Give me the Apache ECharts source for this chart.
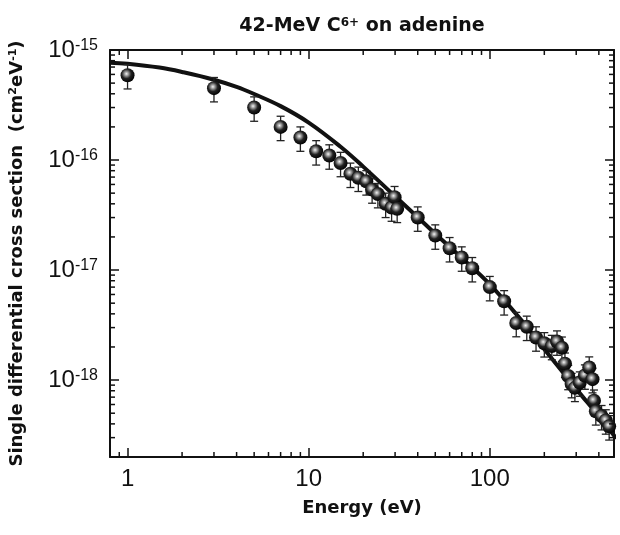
<!DOCTYPE html>
<html>
<head>
<meta charset="utf-8">
<script src="https://cdn.jsdelivr.net/npm/echarts@6.0.0/dist/echarts.min.js"></script>
<style>
  html, body { margin: 0; background: #fff; }
  #chart { width: 620px; height: 535px; }
</style>
</head>
<body>
<div id="chart"></div>
<script>
const energy = [1, 3, 5, 7, 9, 11, 13, 15, 17, 18.8, 20.8, 22.4, 24.1, 26.6, 28.7, 29.8, 30.8,
  40, 50, 60, 70, 80, 100, 120, 140, 160, 180, 200, 220, 235, 250, 260, 271, 283, 295,
  314, 335, 354, 369, 376, 385, 414, 437, 456]
const sigma = [5.9e-16, 4.5e-16, 3.0e-16, 2.0e-16, 1.6e-16, 1.2e-16, 1.1e-16, 9.4e-17, 7.5e-17, 6.9e-17,
  6.4e-17, 5.4e-17, 4.9e-17, 4.0e-17, 3.7e-17, 4.6e-17, 3.6e-17,
  3.0e-17, 2.06e-17, 1.58e-17, 1.3e-17, 1.04e-17, 7.0e-18, 5.2e-18, 3.3e-18, 3.05e-18, 2.44e-18,
  2.16e-18, 2.04e-18, 2.24e-18, 1.97e-18, 1.41e-18, 1.09e-18, 9.2e-19, 8.5e-19,
  9.5e-19, 1.1e-18, 1.3e-18, 1.02e-18, 6.5e-19, 5.2e-19, 4.7e-19, 4.3e-19, 3.8e-19]
const relErr = [0.25, 0.25, 0.25, 0.25, 0.25, 0.25, 0.25, 0.25, 0.25, 0.25,
  0.25, 0.25, 0.25, 0.25, 0.25, 0.25, 0.25,
  0.25, 0.25, 0.25, 0.25, 0.25, 0.25, 0.25, 0.25, 0.25, 0.25,
  0.25, 0.25, 0.25, 0.25, 0.25, 0.25, 0.25, 0.25,
  0.25, 0.25, 0.25, 0.25, 0.25, 0.25, 0.25, 0.25, 0.25]

// theory curve
const theoryE = [0.8, 1, 1.5, 2, 3, 4, 5, 7, 10, 15, 20, 30, 40, 50, 70, 100, 150, 200, 300, 400, 500]
const theoryS = [7.67e-16, 7.5e-16, 6.92e-16, 6.31e-16, 5.37e-16, 4.62e-16, 3.98e-16, 3.09e-16, 2.19e-16,
  1.32e-16, 8.71e-17, 4.68e-17, 3.02e-17, 2.14e-17, 1.29e-17, 7.41e-18, 3.47e-18, 1.91e-18,
  8.32e-19, 4.68e-19, 2.95e-19]

// log minor ticks
const xMinorTicks = [0.9, 2, 3, 4, 5, 6, 7, 8, 9, 20, 30, 40, 50, 60, 70, 80, 90, 200, 300, 400]
const yMinorTicks = [3e-19, 4e-19, 5e-19, 6e-19, 7e-19, 8e-19, 9e-19,
  2e-18, 3e-18, 4e-18, 5e-18, 6e-18, 7e-18, 8e-18, 9e-18,
  2e-17, 3e-17, 4e-17, 5e-17, 6e-17, 7e-17, 8e-17, 9e-17,
  2e-16, 3e-16, 4e-16, 5e-16, 6e-16, 7e-16, 8e-16, 9e-16]

const X_MIN = 0.8, X_MAX = 485, Y_MIN = 2e-19, Y_MAX = 1e-15
const INK = '#111'
const labelFont = 'Liberation Sans, Arial, sans-serif'
const boldFont = 'DejaVu Sans, Verdana, sans-serif'

const isDecade = v => Math.abs(Math.log10(v) - Math.round(Math.log10(v))) < 1e-6

const axisCommon = () => ({
  type: 'log', logBase: 10,
  axisLine: { lineStyle: { color: INK, width: 2 } },
  axisTick: { inside: true, length: 9, lineStyle: { color: INK, width: 1.5 } },
  splitLine: { show: false },
  minorTick: { show: false },
})

const sphere = new echarts.graphic.RadialGradient(0.42, 0.4, 0.62, [
  { offset: 0, color: '#f4f4f4' },
  { offset: 0.22, color: '#a0a0a0' },
  { offset: 0.55, color: '#222' },
  { offset: 1, color: '#000' },
])

const chart = echarts.init(document.getElementById('chart'), null, { renderer: 'canvas' })
chart.setOption({
  animation: false,
  backgroundColor: '#fff',
  title: {
    text: '42-MeV C{sup|6+} on adenine',
    left: 357, top: 12, textAlign: 'center',
    textStyle: {
      fontFamily: boldFont, fontWeight: 'bold', fontSize: 19, color: INK,
      rich: { sup: { fontFamily: boldFont, fontWeight: 'bold', fontSize: 12, verticalAlign: 'top', color: INK } },
    },
  },
  grid: { left: 110, right: 6, top: 50, bottom: 78 },
  xAxis: [
    {
      ...axisCommon(), position: 'bottom', min: X_MIN, max: X_MAX,
      axisLabel: {
        color: INK, fontFamily: labelFont, fontSize: 24, margin: 10,
        formatter: v => isDecade(v) ? String(Math.round(v)) : '',
      },
      name: 'Energy (eV)', nameLocation: 'middle', nameGap: 42,
      nameTextStyle: { fontFamily: boldFont, fontWeight: 'bold', fontSize: 18, color: INK },
    },
    { ...axisCommon(), position: 'top', min: X_MIN, max: X_MAX, axisLabel: { show: false } },
  ],
  yAxis: [
    {
      ...axisCommon(), position: 'left', min: Y_MIN, max: Y_MAX,
      axisLabel: {
        color: INK, fontFamily: labelFont, fontSize: 24, margin: 12,
        formatter: v => isDecade(v) ? `{b|10}{s|${Math.round(Math.log10(v))}}` : '',
        rich: {
          b: { fontFamily: labelFont, fontSize: 24, color: INK },
          s: { fontFamily: labelFont, fontSize: 16, color: INK, verticalAlign: 'top' },
        },
      },
      name: 'Single differential cross section  (cm{sup|2}eV{sup|-1})',
      nameLocation: 'middle', nameGap: 84,
      nameTextStyle: {
        fontFamily: boldFont, fontWeight: 'bold', fontSize: 18, color: INK,
        rich: { sup: { fontFamily: boldFont, fontWeight: 'bold', fontSize: 11, verticalAlign: 'top', color: INK } },
      },
    },
    { ...axisCommon(), position: 'right', min: Y_MIN, max: Y_MAX, axisLabel: { show: false } },
  ],
  series: [
    {
      type: 'line', z: 2, smooth: 0.4, showSymbol: false, silent: true,
      data: theoryE.map((e, i) => [e, theoryS[i]]),
      lineStyle: { color: INK, width: 4 },
    },
    {
      type: 'custom', z: 3, silent: true,
      data: energy.map((e, i) => [e, sigma[i] * (1 - relErr[i]), sigma[i] * (1 + relErr[i])]),
      encode: { x: 0, y: [1, 2] },
      renderItem: (params, api) => {
        const lo = api.coord([api.value(0), api.value(1)])
        const hi = api.coord([api.value(0), api.value(2)])
        const style = { stroke: '#222', lineWidth: 1.3 }
        return {
          type: 'group', children: [
            { type: 'line', shape: { x1: lo[0], y1: lo[1], x2: hi[0], y2: hi[1] }, style },
            { type: 'line', shape: { x1: lo[0] - 4, y1: lo[1], x2: lo[0] + 4, y2: lo[1] }, style },
            { type: 'line', shape: { x1: hi[0] - 4, y1: hi[1], x2: hi[0] + 4, y2: hi[1] }, style },
          ],
        }
      },
    },
    {
      type: 'scatter', z: 4, symbol: 'circle', symbolSize: 14,
      data: energy.map((e, i) => [e, sigma[i]]),
      itemStyle: { color: sphere, opacity: 1 },
    },
    {
      // minor ticks on bottom/top
      type: 'custom', z: 5, silent: true, clip: false,
      data: xMinorTicks.map(v => [v, 1e-17]),
      renderItem: (params, api) => {
        const x = api.coord([api.value(0), 1e-17])[0]
        const cs = params.coordSys
        const style = { stroke: INK, lineWidth: 1.5 }
        return {
          type: 'group', children: [
            { type: 'line', shape: { x1: x, y1: cs.y + cs.height, x2: x, y2: cs.y + cs.height - 5 }, style },
            { type: 'line', shape: { x1: x, y1: cs.y, x2: x, y2: cs.y + 5 }, style },
          ],
        }
      },
    },
    {
      // minor ticks on left/right
      type: 'custom', z: 5, silent: true, clip: false,
      data: yMinorTicks.map(v => [1, v]),
      renderItem: (params, api) => {
        const y = api.coord([1, api.value(1)])[1]
        const cs = params.coordSys
        const style = { stroke: INK, lineWidth: 1.5 }
        return {
          type: 'group', children: [
            { type: 'line', shape: { x1: cs.x, y1: y, x2: cs.x + 5, y2: y }, style },
            { type: 'line', shape: { x1: cs.x + cs.width, y1: y, x2: cs.x + cs.width - 5, y2: y }, style },
          ],
        }
      },
    },
  ],
})
</script>
</body>
</html>
